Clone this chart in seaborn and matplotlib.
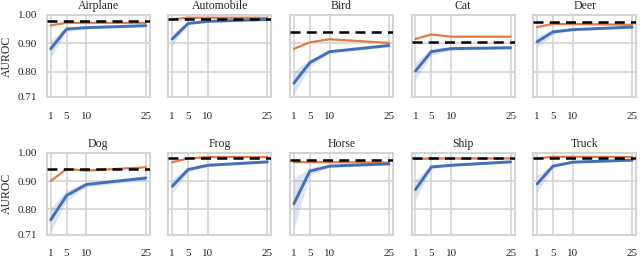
import numpy as np
import pandas as pd
import matplotlib

matplotlib.use("Agg")

import matplotlib.pyplot as plt
import seaborn as sns

shots = [1, 5, 10, 25]
classes = ["Airplane", "Automobile", "Bird", "Cat", "Deer",
           "Dog", "Frog", "Horse", "Ship", "Truck"]

# blue series (mean) and its band half-width
blue_mean = {
    "Airplane":   [0.880, 0.950, 0.955, 0.962],
    "Automobile": [0.915, 0.970, 0.977, 0.984],
    "Bird":       [0.759, 0.831, 0.870, 0.892],
    "Cat":        [0.802, 0.870, 0.881, 0.884],
    "Deer":       [0.905, 0.940, 0.948, 0.957],
    "Dog":        [0.763, 0.849, 0.888, 0.911],
    "Frog":       [0.882, 0.941, 0.956, 0.968],
    "Horse":      [0.820, 0.935, 0.953, 0.961],
    "Ship":       [0.870, 0.950, 0.956, 0.968],
    "Truck":      [0.890, 0.953, 0.967, 0.974],
}
blue_err = {
    "Airplane":   [0.030, 0.008, 0.005, 0.004],
    "Automobile": [0.020, 0.005, 0.003, 0.003],
    "Bird":       [0.042, 0.012, 0.006, 0.005],
    "Cat":        [0.032, 0.012, 0.006, 0.005],
    "Deer":       [0.020, 0.008, 0.004, 0.003],
    "Dog":        [0.042, 0.018, 0.008, 0.008],
    "Frog":       [0.025, 0.008, 0.004, 0.004],
    "Horse":      [0.090, 0.012, 0.005, 0.004],
    "Ship":       [0.035, 0.006, 0.004, 0.003],
    "Truck":      [0.030, 0.006, 0.004, 0.003],
}
orange = {
    "Airplane":   [0.963, 0.972, 0.972, 0.972],
    "Automobile": [0.985, 0.990, 0.990, 0.990],
    "Bird":       [0.880, 0.903, 0.914, 0.901],
    "Cat":        [0.915, 0.931, 0.923, 0.923],
    "Deer":       [0.957, 0.968, 0.968, 0.965],
    "Dog":        [0.900, 0.943, 0.937, 0.949],
    "Frog":       [0.967, 0.980, 0.985, 0.985],
    "Horse":      [0.967, 0.967, 0.967, 0.965],
    "Ship":       [0.978, 0.980, 0.980, 0.980],
    "Truck":      [0.980, 0.986, 0.986, 0.985],
}
baseline = {
    "Airplane": 0.980, "Automobile": 0.987, "Bird": 0.940, "Cat": 0.905,
    "Deer": 0.975, "Dog": 0.943, "Frog": 0.982, "Horse": 0.976,
    "Ship": 0.980, "Truck": 0.980,
}

yticks = [0.71, 0.80, 0.90, 1.00]

sns.set_theme(style="whitegrid")
plt.rcParams["font.family"] = ["Liberation Serif", "DejaVu Serif"]
plt.rcParams["axes.edgecolor"] = "#d4d4d4"
plt.rcParams["grid.color"] = "#d4d4d4"

fig, axes = plt.subplots(2, 5, figsize=(6.4, 2.57), dpi=100, sharey=True)
fig.subplots_adjust(left=0.073, right=0.994, top=0.942, bottom=0.086,
                    wspace=0.18, hspace=0.68)

blue = "#4470b8"
orng = "#e07b45"

for i, (ax, name) in enumerate(zip(axes.flat, classes)):
    df = pd.DataFrame({"shots": shots, "blue": blue_mean[name], "orange": orange[name]})
    lo = np.array(blue_mean[name]) - np.array(blue_err[name])
    hi = np.array(blue_mean[name]) + np.array(blue_err[name])
    ax.fill_between(shots, lo, hi, color=blue, alpha=0.18, lw=0)
    sns.lineplot(data=df, x="shots", y="orange", ax=ax, color=orng, lw=1.6)
    sns.lineplot(data=df, x="shots", y="blue", ax=ax, color=blue, lw=2.1)
    ax.axhline(baseline[name], color="black", ls=(0, (4, 2.5)), lw=1.8, zorder=5)
    ax.set_xlim(0, 26)
    ax.set_ylim(0.71, 1.0)
    ax.set_xticks(shots)
    ax.set_yticks(yticks)
    ax.set_yticklabels([f"{v:.2f}" for v in yticks])
    ax.set_title(name, fontsize=8.5, pad=4)
    ax.set_xlabel("")
    ax.set_ylabel("")
    ax.tick_params(axis="x", labelsize=8, length=0, pad=10.5)
    ax.tick_params(axis="y", labelsize=8, length=0, pad=7)
    ax.grid(True, axis="x", lw=1.2)
    # horizontal grid only on the first column
    ax.grid(i % 5 == 0, axis="y", lw=1.2)
    for s in ax.spines.values():
        s.set_linewidth(1.5)

for ax in axes[:, 0]:
    ax.set_ylabel("AUROC", fontsize=8.5, labelpad=3)

fig.savefig("out.png", dpi=100)
